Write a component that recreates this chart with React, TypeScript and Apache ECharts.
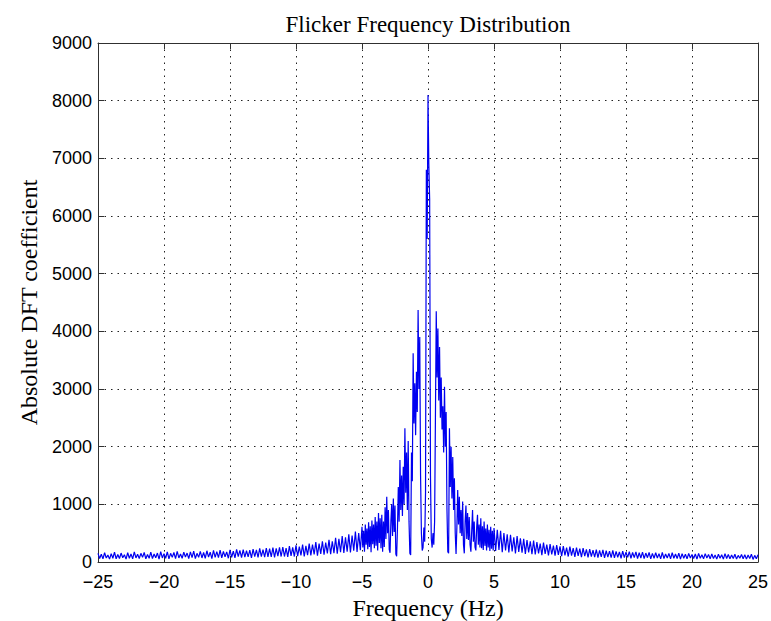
import React, { useEffect, useRef } from "react";
import * as echarts from "echarts";

// Tails sampled every 0.125 Hz (8 samples per 1-Hz row),
// centre (-5..5 Hz) sampled every 0.0625 Hz (16 samples per 1-Hz row).
const TAIL_STEP = 0.125;
const CENTER_STEP = 0.0625;

const TITLE = "Flicker Frequency Distribution";
const X_NAME = "Frequency (Hz)";
const Y_NAME = "Absolute DFT coefficient";

const X_MIN = -25;
const X_MAX = 25;
const X_INTERVAL = 5;
const Y_MIN = 0;
const Y_MAX = 9000;
const Y_INTERVAL = 1000;

// -25 Hz .. -5.125 Hz
const LEFT_TAIL_START = -25;
const leftTailRows: number[][] = [
  [150, 60, 135, 55, 160, 70, 120, 50],
  [145, 65, 170, 55, 130, 60, 155, 75],
  [125, 50, 160, 65, 140, 55, 175, 70],
  [135, 60, 150, 80, 165, 55, 130, 65],
  [170, 60, 140, 75, 155, 50, 180, 70],
  [145, 65, 175, 55, 150, 80, 165, 60],
  [185, 70, 140, 65, 170, 85, 155, 60],
  [175, 75, 190, 60, 150, 80, 185, 70],
  [165, 65, 195, 85, 170, 60, 200, 80],
  [180, 75, 205, 70, 185, 90, 175, 65],
  [210, 80, 190, 70, 220, 95, 200, 75],
  [215, 85, 195, 90, 205, 70, 225, 95],
  [210, 80, 235, 95, 215, 85, 240, 90],
  [230, 90, 250, 80, 235, 100, 255, 95],
  [260, 95, 240, 90, 275, 105, 255, 95],
  [290, 100, 265, 115, 300, 95, 280, 120],
  [320, 115, 300, 130, 345, 110, 320, 140],
  [360, 125, 335, 150, 385, 135, 360, 155],
  [420, 145, 400, 170, 450, 155, 430, 180],
  [480, 165, 460, 195, 530, 175, 500, 205],
];

// -5 Hz .. 4.9375 Hz
const CENTER_START = -5;
const centerRows: number[][] = [
  [610, 250, 540, 180, 650, 300, 580, 220, 690, 260, 620, 170, 720, 310, 650, 240],
  [780, 280, 700, 200, 850, 330, 760, 240, 820, 180, 700, 260, 950, 400, 1130, 500],
  [900, 220, 160, 700, 1000, 450, 1100, 520, 980, 140, 100, 600, 1300, 700, 1770, 900],
  [1500, 800, 1650, 1000, 2320, 1200, 1900, 900, 2100, 700, 150, 120, 1900, 1400, 3620, 2400],
  [3100, 2200, 3300, 2600, 4370, 3000, 3900, 1500, 500, 200, 250, 600, 350, 1200, 6800, 5600],
  [8100, 6900, 6300, 1500, 400, 250, 500, 300, 700, 2500, 4350, 3200, 4050, 2800, 3730, 2500],
  [3200, 2300, 2700, 1900, 3040, 2000, 2600, 900, 180, 150, 2320, 1300, 2000, 1100, 1820, 900],
  [1450, 500, 140, 600, 1250, 650, 1130, 500, 900, 450, 1050, 300, 150, 700, 980, 400],
  [850, 380, 780, 300, 180, 550, 900, 350, 700, 260, 200, 600, 820, 300, 650, 250],
  [760, 240, 620, 210, 700, 280, 580, 200, 650, 250, 560, 190, 610, 230, 540, 200],
];

// 5 Hz .. 24.875 Hz
const RIGHT_TAIL_START = 5;
const rightTailRows: number[][] = [
  [590, 190, 560, 210, 540, 170, 500, 200],
  [480, 165, 470, 185, 430, 150, 450, 175],
  [410, 160, 400, 140, 380, 165, 360, 135],
  [370, 130, 345, 150, 320, 120, 335, 140],
  [300, 115, 310, 130, 285, 110, 295, 125],
  [270, 100, 275, 115, 250, 95, 265, 110],
  [240, 90, 250, 105, 230, 85, 240, 100],
  [220, 80, 225, 95, 205, 85, 215, 75],
  [200, 90, 210, 70, 195, 85, 190, 75],
  [200, 70, 185, 80, 175, 65, 190, 75],
  [170, 80, 180, 65, 165, 75, 175, 60],
  [160, 70, 170, 60, 155, 75, 165, 55],
  [150, 65, 160, 70, 145, 55, 165, 60],
  [140, 70, 150, 55, 160, 65, 140, 60],
  [155, 50, 145, 65, 135, 55, 150, 70],
  [130, 60, 140, 50, 150, 65, 125, 55],
  [145, 70, 130, 55, 140, 60, 120, 50],
  [135, 65, 125, 50, 145, 60, 130, 55],
  [120, 60, 135, 50, 115, 65, 130, 55],
  [125, 50, 120, 60, 135, 45, 115, 55],
];
const END_VALUE_AT_25HZ = 125;

function rowsToPoints(start: number, step: number, rows: number[][]): [number, number][] {
  const pts: [number, number][] = [];
  rows.forEach((row, r) => {
    row.forEach((v, j) => {
      pts.push([start + r + j * step, v]);
    });
  });
  return pts;
}

const SERIF = "'Liberation Serif', 'Times New Roman', serif";
const SANS = "'Liberation Sans', Arial, sans-serif";

export default function App() {
  const ref = useRef<HTMLDivElement>(null);

  useEffect(() => {
    document.body.style.margin = "0";
    if (!ref.current) return;
    const chart = echarts.init(ref.current, undefined, { renderer: "svg" });

    const data: [number, number][] = [
      ...rowsToPoints(LEFT_TAIL_START, TAIL_STEP, leftTailRows),
      ...rowsToPoints(CENTER_START, CENTER_STEP, centerRows),
      ...rowsToPoints(RIGHT_TAIL_START, TAIL_STEP, rightTailRows),
      [X_MAX, END_VALUE_AT_25HZ],
    ];

    const axisLineStyle = { color: "#303030", width: 1 };
    const gridLineStyle = { color: "#222", width: 1, type: [1.5, 5] as number[] };
    const minus = (v: number) => String(v).replace("-", "\u2212");

    chart.setOption({
      animation: false,
      backgroundColor: "#ffffff",
      grid: {
        left: 98,
        right: 13,
        top: 43,
        bottom: 59,
        containLabel: false,
        outerBoundsMode: "none",
      },
      graphic: [
        {
          type: "text",
          x: 428,
          y: 24,
          style: {
            text: TITLE,
            fill: "#000",
            font: `23px ${SERIF}`,
            textAlign: "center",
            textVerticalAlign: "middle",
          },
        },
      ],
      xAxis: [
        {
          type: "value",
          position: "bottom",
          min: X_MIN,
          max: X_MAX,
          interval: X_INTERVAL,
          name: X_NAME,
          nameLocation: "middle",
          nameGap: 30,
          nameTextStyle: { fontFamily: SERIF, fontSize: 24, color: "#000" },
          axisLine: { show: true, onZero: false, lineStyle: axisLineStyle },
          axisTick: { show: true, inside: true, length: 6, lineStyle: axisLineStyle },
          axisLabel: {
            show: true,
            margin: 11,
            fontFamily: SANS,
            fontSize: 18,
            color: "#000",
            formatter: minus,
          },
          splitLine: { show: true, lineStyle: gridLineStyle },
        },
        {
          type: "value",
          position: "top",
          min: X_MIN,
          max: X_MAX,
          interval: X_INTERVAL,
          axisLine: { show: true, onZero: false, lineStyle: axisLineStyle },
          axisTick: { show: true, inside: true, length: 6, lineStyle: axisLineStyle },
          axisLabel: { show: false },
          splitLine: { show: false },
        },
      ],
      yAxis: [
        {
          type: "value",
          position: "left",
          min: Y_MIN,
          max: Y_MAX,
          interval: Y_INTERVAL,
          name: Y_NAME,
          nameLocation: "middle",
          nameRotate: 90,
          nameGap: 55,
          nameTextStyle: { fontFamily: SERIF, fontSize: 24, color: "#000" },
          axisLine: { show: true, onZero: false, lineStyle: axisLineStyle },
          axisTick: { show: true, inside: true, length: 6, lineStyle: axisLineStyle },
          axisLabel: {
            show: true,
            margin: 6,
            fontFamily: SANS,
            fontSize: 18,
            color: "#000",
            formatter: (v: number) => String(v),
          },
          splitLine: { show: true, lineStyle: gridLineStyle },
        },
        {
          type: "value",
          position: "right",
          min: Y_MIN,
          max: Y_MAX,
          interval: Y_INTERVAL,
          axisLine: { show: true, onZero: false, lineStyle: axisLineStyle },
          axisTick: { show: true, inside: true, length: 6, lineStyle: axisLineStyle },
          axisLabel: { show: false },
          splitLine: { show: false },
        },
      ],
      series: [
        {
          type: "line",
          xAxisIndex: 0,
          yAxisIndex: 0,
          data,
          showSymbol: false,
          symbol: "none",
          lineStyle: { color: "#0000f0", width: 1.2 },
          itemStyle: { color: "#0000f0" },
          z: 3,
        },
      ],
    });

    return () => {
      chart.dispose();
    };
  }, []);

  return <div ref={ref} style={{ width: 771, height: 621 }} />;
}
